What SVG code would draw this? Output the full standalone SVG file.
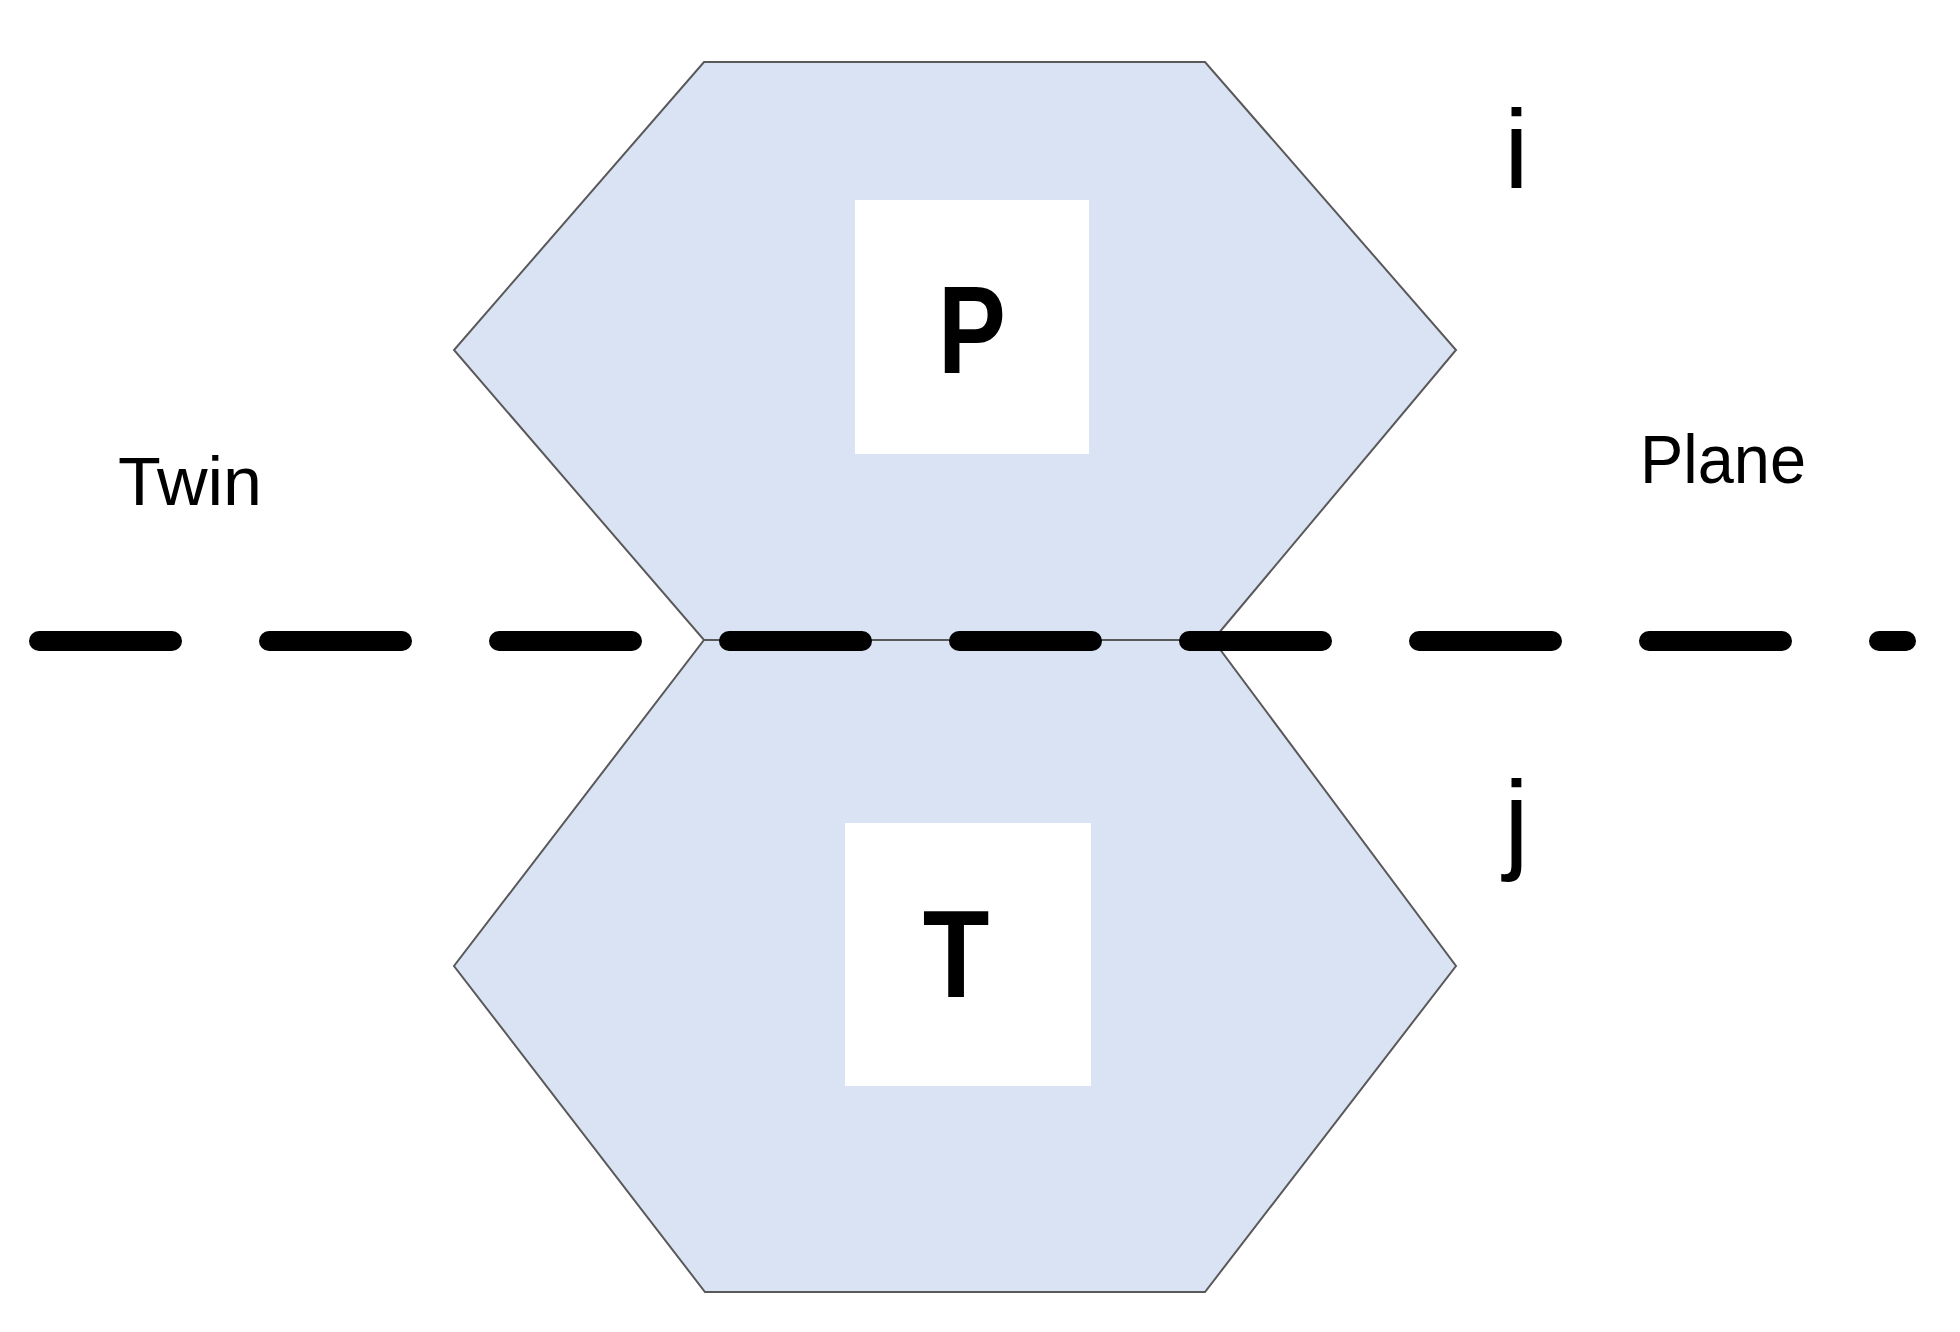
<svg xmlns="http://www.w3.org/2000/svg" width="1960" height="1332" viewBox="0 0 1960 1332">
  <style>
    .hex { fill: #DAE3F3; stroke: #595959; stroke-width: 2; stroke-linejoin: miter; }
    .box { fill: #FFFFFF; stroke: none; }
    .big { font-family: "Liberation Sans", Arial, sans-serif; font-weight: bold; font-size: 124px; fill: #000000; }
    .lbl { font-family: "Liberation Sans", Arial, sans-serif; font-size: 68px; fill: #000000; }
    .idx { font-family: "Liberation Sans", Arial, sans-serif; font-size: 112px; fill: #000000; }
    .plane { fill: none; stroke: #000000; stroke-width: 20; stroke-linecap: round; stroke-dasharray: 133 97; }
  </style>
  <rect x="0" y="0" width="1960" height="1332" fill="#FFFFFF"/>
  <g id="grainP">
    <polygon class="hex" points="704,62 1205,62 1456,350 1213,640 704,640 454,350"/>
    <rect class="box" x="855" y="200" width="234" height="254"/>
    <text class="big" text-anchor="middle" transform="translate(972,373) scale(0.82,1)">P</text>
  </g>
  <g id="grainT">
    <polygon class="hex" points="704,640 1213,640 1456,966 1205,1292 705,1292 454,966"/>
    <rect class="box" x="845" y="823" width="246" height="263"/>
    <text class="big" text-anchor="middle" transform="translate(956,997) scale(0.88,1)">T</text>
  </g>
  <g id="labels">
    <text class="idx" x="1504" y="188">i</text>
    <text class="idx" x="1504" y="859">j</text>
    <text class="lbl" x="118" y="505" textLength="144" lengthAdjust="spacingAndGlyphs">Twin</text>
    <text class="lbl" x="1640" y="483" textLength="166" lengthAdjust="spacingAndGlyphs">Plane</text>
  </g>
  <g id="connectors">
    <line class="plane" x1="39" y1="641" x2="1906" y2="641"/>
  </g>
</svg>
